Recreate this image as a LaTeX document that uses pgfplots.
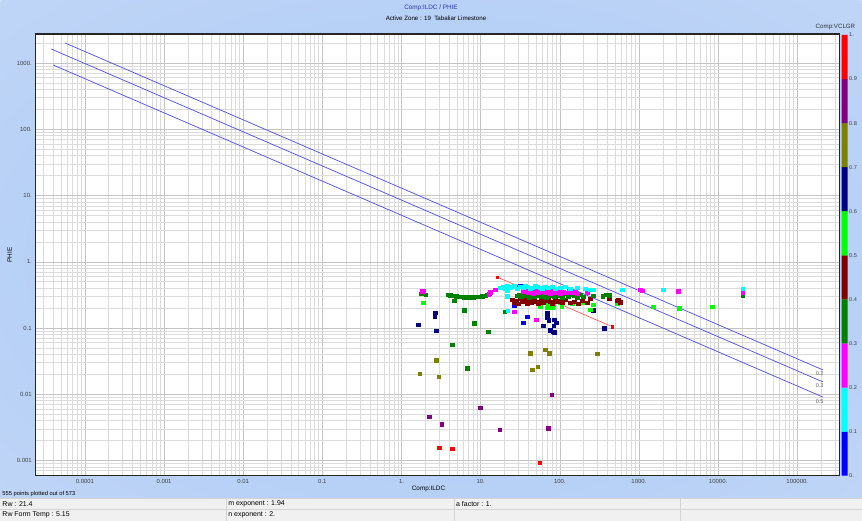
\documentclass[border=0pt]{standalone}
\usepackage{fontspec}
\setmainfont{Liberation Sans}
\usepackage{pgfplots}
\pgfplotsset{compat=1.18}

% VCLGR class colours
\definecolor{cb0}{RGB}{0,0,255}
\definecolor{cb1}{RGB}{0,255,255}
\definecolor{cb2}{RGB}{255,0,255}
\definecolor{cb3}{RGB}{0,128,0}
\definecolor{cb4}{RGB}{128,0,0}
\definecolor{cb5}{RGB}{0,255,0}
\definecolor{cb6}{RGB}{0,0,128}
\definecolor{cb7}{RGB}{128,128,0}
\definecolor{cb8}{RGB}{128,0,128}
\definecolor{cb9}{RGB}{255,0,0}
\definecolor{swline}{RGB}{85,85,232}
\definecolor{swone}{RGB}{255,90,90}
\definecolor{titleblue}{RGB}{50,50,170}
\definecolor{bgA}{RGB}{168,198,244}
\definecolor{bgB}{RGB}{192,214,247}
\definecolor{bgC}{RGB}{246,249,254}
\definecolor{statusbg}{RGB}{240,240,240}
\definecolor{statusline}{RGB}{212,212,212}

\pgfdeclareradialshading{panelbg}{\pgfpoint{0bp}{0bp}}{color(0bp)=(bgA); color(36bp)=(bgB); color(72bp)=(bgC)}

\pgfplotsset{
  pt/.style={only marks, mark=square*, mark size=1.8bp, mark options={draw=#1, fill=#1}},
}

\newcommand{\tickfont}{\fontsize{6}{6.6}\selectfont}
\newcommand{\statusfont}{\fontsize{7}{7.6}\selectfont}

\begin{document}
\begin{tikzpicture}[x=1bp,y=1bp]
% window background
\shade[shading=panelbg] (0,0) rectangle (862,521);

% status bar
\fill[statusbg] (0,0) rectangle (862,22);
\draw[statusline, line width=0.6bp] (0,22) -- (862,22) (0,11.5) -- (862,11.5)
  (226,0) -- (226,22) (454,0) -- (454,22) (680,0) -- (680,22);
\node[anchor=west, font=\statusfont, inner sep=0] at (2,16.8) {Rw : 21.4};
\node[anchor=west, font=\statusfont, inner sep=0] at (228,16.8) {m exponent : 1.94};
\node[anchor=west, font=\statusfont, inner sep=0] at (456,16.8) {a factor : 1.};
\node[anchor=west, font=\statusfont, inner sep=0] at (2,5.8) {Rw Form Temp : 5.15};
\node[anchor=west, font=\statusfont, inner sep=0] at (228,5.8) {n exponent : 2.};
\node[anchor=west, font=\fontsize{5.8}{6.4}\selectfont, inner sep=0] at (2,27) {555 points plotted out of 573};

% titles
\node[font=\fontsize{6.4}{7}\selectfont, text=titleblue] at (431,513) {Comp:ILDC / PHIE};
\node[font=\fontsize{6.2}{6.8}\selectfont] at (436,502.5) {Active Zone : 19\ \ Tabaliar Limestone};
\node[anchor=east, font=\fontsize{6.2}{6.8}\selectfont, text=black!80] at (859,494) {Comp:VCLGR};

\begin{axis}[
  at={(35bp,45bp)}, anchor=south west,
  scale only axis, width=805bp, height=442bp,
  xmode=log, ymode=log,
  xmin=2.36e-5, xmax=3.44e5, ymin=5.9e-4, ymax=2750,
  axis background/.style={fill=white},
  axis line style={draw=black!85, line width=1.1bp},
  grid=both,
  major grid style={draw=black!23, line width=0.55bp},
  minor grid style={draw=black!14, line width=0.55bp},
  major tick length=0pt, minor tick length=0pt,
  xtick={1e-4,1e-3,0.01,0.1,1,10,100,1000,1e4,1e5},
  xticklabels={0.0001,0.001,0.01,0.1,1.,10.,100.,1000.,10000.,100000.},
  ytick={0.001,0.01,0.1,1,10,100,1000},
  yticklabels={0.001,0.01,0.1,1.,10.,100.,1000.},
  minor xtick={3e-5,4e-5,5e-5,6e-5,7e-5,8e-5,9e-5,
    2e-4,3e-4,4e-4,5e-4,6e-4,7e-4,8e-4,9e-4,
    0.002,0.003,0.004,0.005,0.006,0.007,0.008,0.009,
    0.02,0.03,0.04,0.05,0.06,0.07,0.08,0.09,
    0.2,0.3,0.4,0.5,0.6,0.7,0.8,0.9,
    2,3,4,5,6,7,8,9,
    20,30,40,50,60,70,80,90,
    200,300,400,500,600,700,800,900,
    2000,3000,4000,5000,6000,7000,8000,9000,
    20000,30000,40000,50000,60000,70000,80000,90000,
    200000,300000},
  minor ytick={6e-4,7e-4,8e-4,9e-4,
    0.002,0.003,0.004,0.005,0.006,0.007,0.008,0.009,
    0.02,0.03,0.04,0.05,0.06,0.07,0.08,0.09,
    0.2,0.3,0.4,0.5,0.6,0.7,0.8,0.9,
    2,3,4,5,6,7,8,9,
    20,30,40,50,60,70,80,90,
    200,300,400,500,600,700,800,900,2000},
  tick label style={font=\tickfont, text=black!75},
  xlabel={Comp:ILDC}, ylabel={PHIE},
  label style={font=\fontsize{6.4}{7}\selectfont},
  xlabel style={yshift=4bp, xshift=-9bp},
  ylabel style={yshift=-2bp},
  clip=true,
]
% Archie water saturation lines, a=1, m=1.94, n=2
\addplot[swline, line width=0.75bp] coordinates {(5.62e-5,2009) (2.10e5,0.02336)};
\addplot[swline, line width=0.75bp] coordinates {(3.75e-5,1632) (2.10e5,0.01540)};
\addplot[swline, line width=0.75bp] coordinates {(3.97e-5,934.7) (2.10e5,0.00909)};
\node[font=\fontsize{5.6}{6.2}\selectfont, text=black!60] at (axis cs:1.92e5,0.0202) {0.2};
\node[font=\fontsize{5.6}{6.2}\selectfont, text=black!60] at (axis cs:1.92e5,0.01334) {0.3};
\node[font=\fontsize{5.6}{6.2}\selectfont, text=black!60] at (axis cs:1.92e5,0.00773) {0.5};

% Sw = 1 line
\addplot[swone, line width=0.7bp, mark=square*, mark size=1.2bp, mark options={fill=cb9, draw=cb9}]
  coordinates {(16.2,0.587) (458,0.1048)};

% points coloured by VCLGR class
\addplot[pt=cb0] coordinates {(29.0,0.420) (31.7,0.435) (26.6,0.222) (38.8,0.148) (34.5,0.120)};
\addplot[pt=cb7] coordinates {(2.76,0.033) (1.69,0.0205) (2.95,0.0184) (42.4,0.042) (65.5,0.047) (73.0,0.042) (296,0.041) (44.9,0.0235) (52.7,0.026)};
\addplot[pt=cb8] coordinates {(79.0,0.0099) (9.9,0.0063) (2.25,0.0046) (3.23,0.0035) (17.5,0.0029) (70.8,0.0031)};
\addplot[pt=cb9] coordinates {(2.99,0.00157) (4.36,0.00151) (55.4,0.00093)};
\addplot[pt=cb6] coordinates {(2.68,0.170) (2.64,0.148) (1.62,0.112) (2.76,0.091) (61.2,0.108) (68.8,0.168) (68.8,0.1445) (72.0,0.130) (75.7,0.0927) (81.8,0.088) (85.0,0.133) (83.3,0.109) (85.0,0.0859) (90.1,0.120) (262,0.186) (363,0.100)};
\addplot[pt=cb5] coordinates {(1.87,0.240) (56.6,0.211) (68.8,0.202) (71.4,0.233) (75.7,0.240) (79.6,0.205) (82.6,0.225) (101,0.240) (106,0.211) (143,0.233) (197,0.241) (264,0.225) (242,0.189) (530,0.233) (1507,0.211) (3206,0.200) (8356,0.210)};
\addplot[pt=cb4] coordinates {(25.1,0.267) (26.6,0.241) (28.2,0.258) (29.9,0.233) (31.7,0.277) (33.6,0.249) (36.6,0.267) (38.8,0.233) (41.1,0.258) (43.6,0.241) (47.5,0.277) (50.4,0.249) (53.4,0.233) (58.2,0.267) (61.8,0.241) (65.5,0.258) (71.4,0.277) (75.7,0.249) (80.2,0.233) (87.5,0.267) (92.7,0.249) (101,0.258) (107,0.241) (117,0.267)
  (135,0.241) (152,0.249) (171,0.233) (191,0.258) (222,0.241) (242,0.277) (420,0.277) (530,0.258) (578,0.243) (545,0.267)};
\addplot[pt=cb3] coordinates {(1.77,0.329) (2.01,0.318)
  (3.91,0.318) (4.15,0.312) (4.40,0.307) (4.66,0.307) (4.94,0.302) (5.23,0.297) (5.71,0.297) (6.23,0.292) (6.79,0.292) (7.41,0.292) (8.09,0.292) (8.83,0.297) (9.63,0.297) (10.5,0.302) (11.5,0.307) (12.1,0.318) (12.9,0.329)
  (4.66,0.260) (6.23,0.185) (8.33,0.119) (12.4,0.088) (4.40,0.056) (6.79,0.0245) (20.1,0.177)
  (29.0,0.307) (30.8,0.318) (32.6,0.297) (35.6,0.329) (37.7,0.307) (41.1,0.286) (43.6,0.318) (47.5,0.297) (50.4,0.307) (55.0,0.329) (58.2,0.297) (63.6,0.318) (67.4,0.286) (73.5,0.307) (77.9,0.329) (85.0,0.297) (90.1,0.318) (98.2,0.307) (107,0.286) (117,0.329) (127.6,0.297) (139,0.318) (152,0.307) (166,0.286) (181,0.318) (197,0.297)
  (264,0.307) (350,0.302) (385,0.318) (420,0.315) (20560,0.310)};
\addplot[pt=cb2] coordinates {(1.82,0.357) (1.91,0.357) (13.3,0.344) (15.3,0.378) (12.6,0.318) (26.6,0.176) (50.4,0.133)
  (34.5,0.353) (37.7,0.365) (40.0,0.341) (42.4,0.353) (46.2,0.329) (49.0,0.365) (53.4,0.341) (56.6,0.353) (61.8,0.378) (65.5,0.341) (71.4,0.353) (75.7,0.329) (82.6,0.365) (87.5,0.341) (95.5,0.353) (101,0.329) (110,0.353) (120,0.341) (131,0.365) (143,0.341) (156,0.353) (166,0.329)
  (222,0.341) (1033,0.378) (1094,0.365) (3114,0.357) (20560,0.341)};
\addplot[pt=cb1] coordinates {(17.7,0.405) (19.3,0.420) (20.5,0.392) (21.7,0.435) (23.7,0.405) (25.1,0.420) (26.6,0.435) (29.0,0.392) (31.7,0.420) (34.5,0.405) (36.6,0.435) (38.8,0.420) (42.4,0.392) (44.9,0.405) (49.0,0.435) (51.9,0.420) (56.6,0.405) (60.0,0.392) (65.5,0.420) (71.4,0.405) (80.2,0.420) (87.5,0.392) (101,0.405) (117,0.420) (135,0.392) (166,0.405) (209,0.392) (242,0.378)
  (21.6,0.370) (21.6,0.300) (21.9,0.182) (264,0.378) (612,0.378) (2014,0.378) (20560,0.392)};
\end{axis}

% VCLGR colour scale
\begin{axis}[
  at={(842bp,45bp)}, anchor=south west,
  scale only axis, width=6bp, height=441bp,
  xmin=0, xmax=1, ymin=0, ymax=1,
  axis line style={draw=none},
  xtick=\empty,
  ytick={0,0.1,0.2,0.3,0.4,0.5,0.6,0.7,0.8,0.9,1},
  yticklabels={0.,0.1,0.2,0.3,0.4,0.5,0.6,0.7,0.8,0.9,1.},
  yticklabel pos=right,
  major tick length=0pt,
  yticklabel style={font=\fontsize{5.6}{6.2}\selectfont, text=black!75, xshift=-2bp},
  clip=false,
]
\addplot[fill=cb0, draw=none] coordinates {(0,0) (1,0) (1,0.1) (0,0.1) (0,0)};
\addplot[fill=cb1, draw=none] coordinates {(0,0.1) (1,0.1) (1,0.2) (0,0.2) (0,0.1)};
\addplot[fill=cb2, draw=none] coordinates {(0,0.2) (1,0.2) (1,0.3) (0,0.3) (0,0.2)};
\addplot[fill=cb3, draw=none] coordinates {(0,0.3) (1,0.3) (1,0.4) (0,0.4) (0,0.3)};
\addplot[fill=cb4, draw=none] coordinates {(0,0.4) (1,0.4) (1,0.5) (0,0.5) (0,0.4)};
\addplot[fill=cb5, draw=none] coordinates {(0,0.5) (1,0.5) (1,0.6) (0,0.6) (0,0.5)};
\addplot[fill=cb6, draw=none] coordinates {(0,0.6) (1,0.6) (1,0.7) (0,0.7) (0,0.6)};
\addplot[fill=cb7, draw=none] coordinates {(0,0.7) (1,0.7) (1,0.8) (0,0.8) (0,0.7)};
\addplot[fill=cb8, draw=none] coordinates {(0,0.8) (1,0.8) (1,0.9) (0,0.9) (0,0.8)};
\addplot[fill=cb9, draw=none] coordinates {(0,0.9) (1,0.9) (1,1) (0,1) (0,0.9)};
\end{axis}
\end{tikzpicture}
\end{document}
